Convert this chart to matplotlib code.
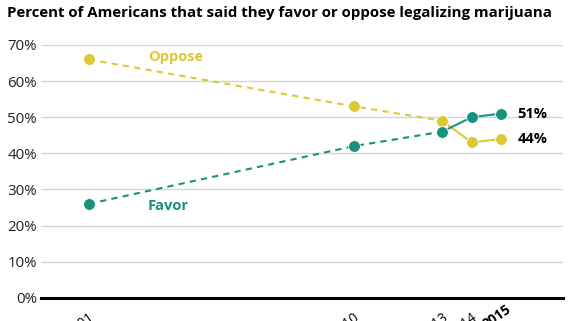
import matplotlib.pyplot as plt
import matplotlib.transforms as mtransforms

# Percent of Americans who favor / oppose legalizing marijuana

years = [2001, 2010, 2013, 2014, 2015]
oppose = [66, 53, 49, 43, 44]
favor = [26, 42, 46, 50, 51]
year_labels = ["2001", "2010", "2013", "2014", "2015"]
yticks = [0, 10, 20, 30, 40, 50, 60, 70]

c_opp = "#dcc934"
c_fav = "#17927e"

plt.rcParams["font.family"] = ["Open Sans", "DejaVu Sans"]

fig = plt.figure(figsize=(5.7, 3.21), dpi=100)
ax = fig.add_axes([41/570, 23.3/321, 522/570, 252.7/321])

for vals, col in [(oppose, c_opp), (favor, c_fav)]:
    # dashed up to 2013, solid after
    ax.plot(years[:3], vals[:3], color=col, lw=1.5, ls=(0, (3, 2.5)), zorder=3)
    ax.plot(years[2:], vals[2:], color=col, lw=1.5, zorder=3)
    ax.plot(years, vals, "o", color=col, ms=8.5, mec="white", mew=0.6, zorder=4)

ax.text(2003.0, oppose[0] + 0.8, "Oppose", color=c_opp, fontsize=10.5,
        fontweight="bold", va="center")
ax.text(2003.0, favor[0] - 0.5, "Favor", color=c_fav, fontsize=10.5,
        fontweight="bold", va="center")
ax.text(2015.55, favor[-1], "%d%%" % favor[-1], fontsize=10.5,
        fontweight="bold", va="center")
ax.text(2015.55, oppose[-1], "%d%%" % oppose[-1], fontsize=10.5,
        fontweight="bold", va="center")

ax.set_xlim(1999.37, 2017.1)
ax.set_ylim(0, 70)
ax.set_yticks(yticks)
ax.set_yticklabels(["%d%%" % v for v in yticks], fontsize=10.8, color="#222222")
ax.set_xticks(years)
ax.set_xticklabels(year_labels, fontsize=9.8, rotation=35, ha="right",
                   rotation_mode="anchor")
ax.tick_params(axis="both", length=0)
ax.tick_params(axis="y", pad=3)
ax.tick_params(axis="x", pad=9)

lab = ax.get_xticklabels()[-1]
lab.set_fontweight("bold")
lab.set_transform(lab.get_transform() +
                  mtransforms.ScaledTranslation(0.04, 0.08, fig.dpi_scale_trans))

ax.grid(axis="y", color="#d5d5d5", lw=1)
ax.set_axisbelow(True)
for s in ["top", "right", "left"]:
    ax.spines[s].set_visible(False)
ax.spines["bottom"].set_linewidth(2.2)
ax.spines["bottom"].set_color("black")

fig.text(7/570, 1 - 13/321, "Percent of Americans that said they favor or oppose legalizing marijuana",
         fontsize=10.8, fontweight="bold", va="center", ha="left")

fig.savefig("out.png", dpi=100)
